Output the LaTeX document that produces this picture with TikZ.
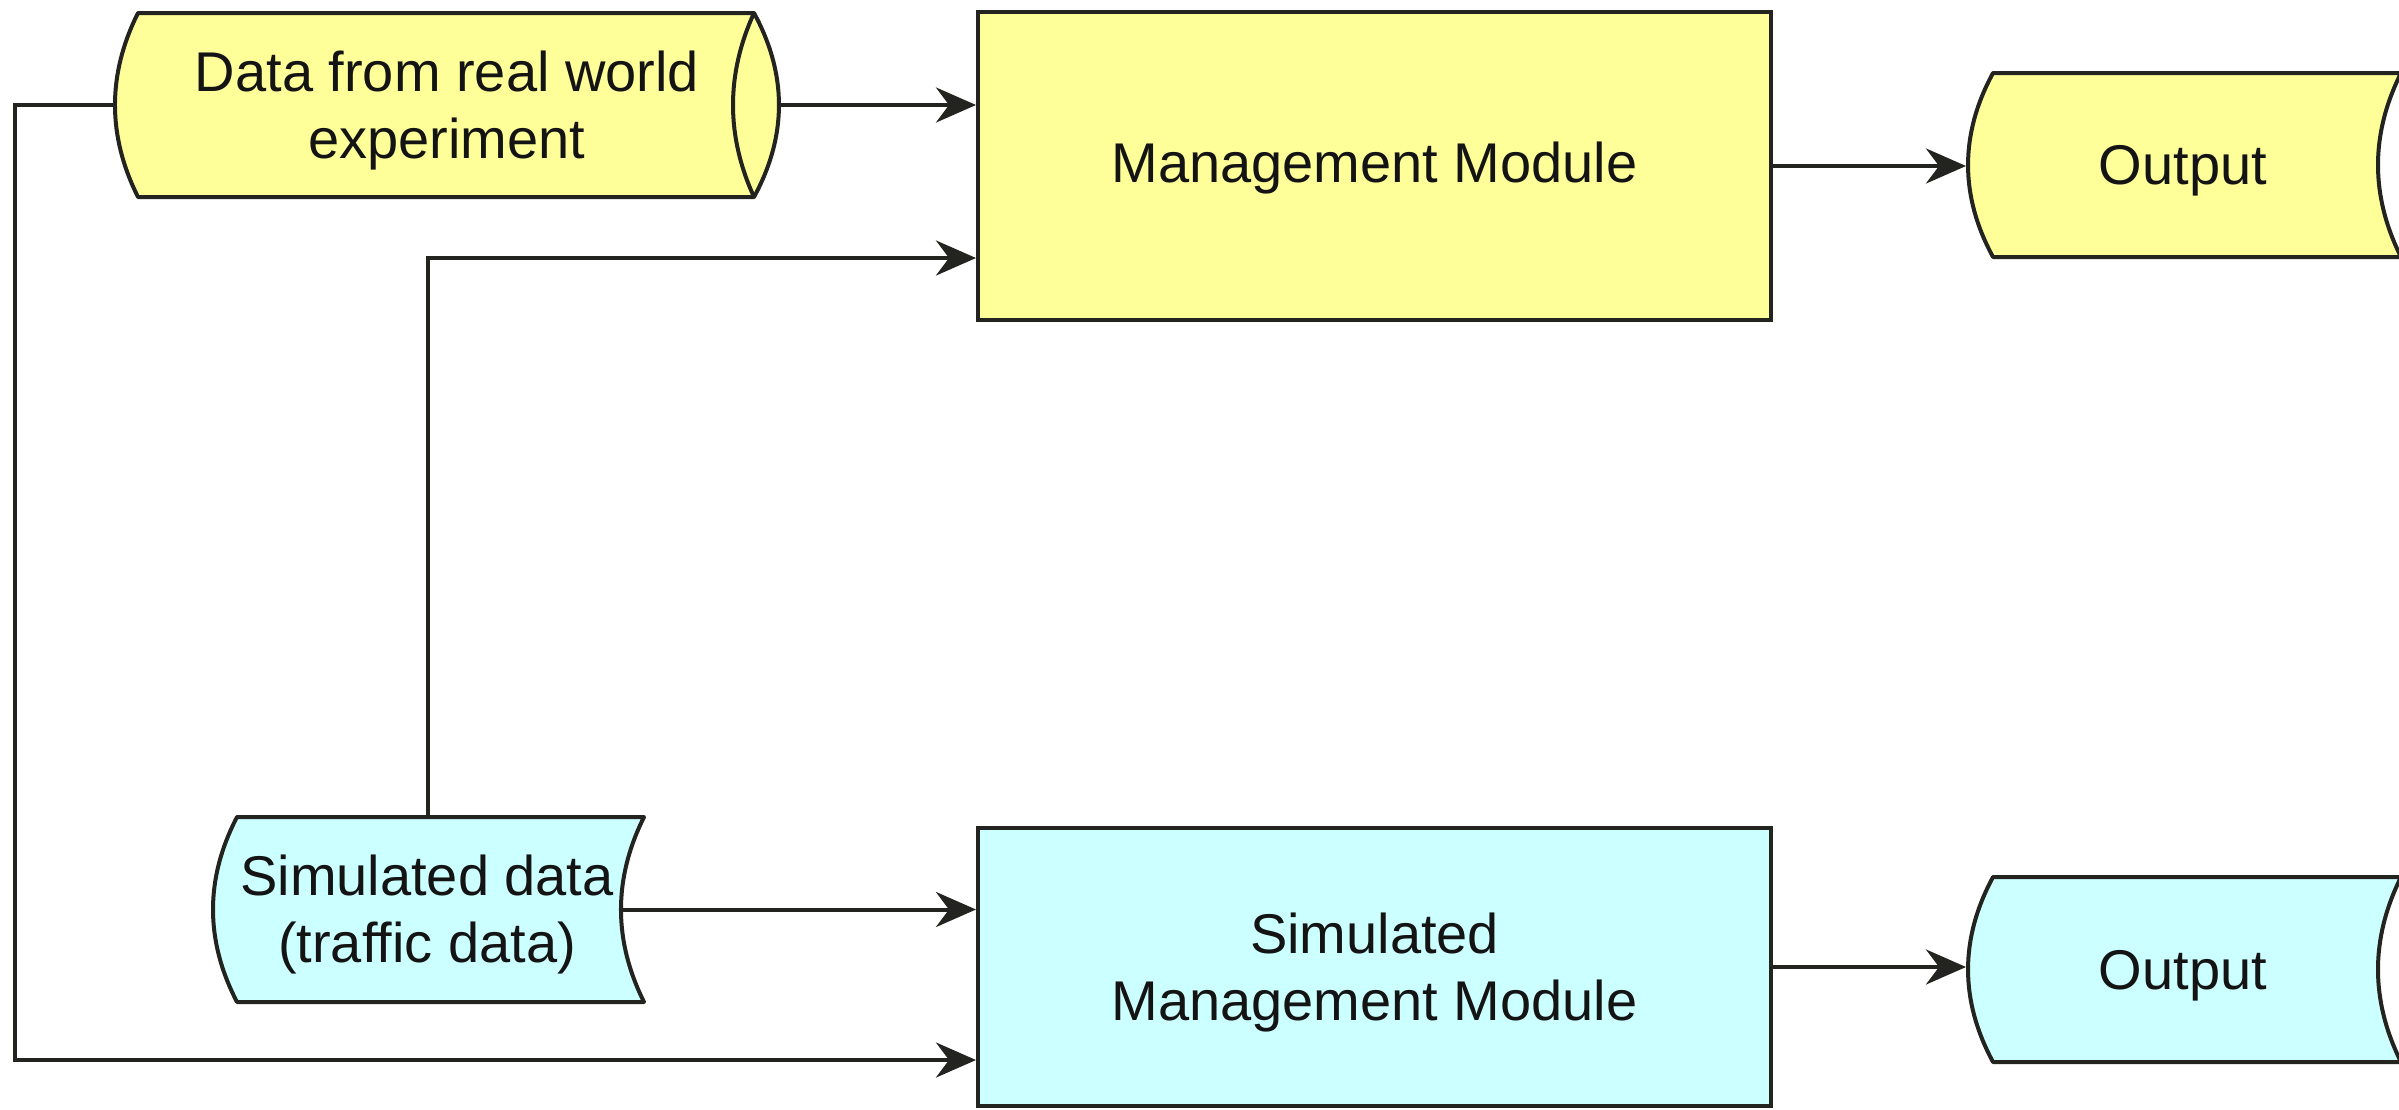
\documentclass[tikz,border=0pt]{standalone}
\usepackage{fontspec}
\setmainfont{Liberation Sans}
\usetikzlibrary{arrows.meta,calc}
\definecolor{yel}{RGB}{255,255,153}
\definecolor{cya}{RGB}{204,255,255}
\definecolor{edge}{RGB}{35,35,32}
\definecolor{txt}{RGB}{20,20,20}
\begin{document}
\begin{tikzpicture}[x=1pt,y=-1pt,line width=4pt,
  lbl/.style={font=\fontsize{56}{67}\selectfont, text=txt, align=center, inner sep=0pt},
  anchorbox/.style={rectangle, inner sep=0pt},
  boxnode/.style={anchorbox, draw=edge},
  shapeline/.style={draw=edge, line join=round},
  conn/.style={draw=edge, line width=4pt},
  arr/.style={conn, -{Stealth[length=40pt,width=35pt,inset=13pt]}}]
\fill[white] (0,0) rectangle (2399,1109);
\useasboundingbox (0,0) rectangle (2399,1109);

% --- data from real world (horizontal cylinder)
\path[shapeline, fill=yel] (138,13) -- (754,13)
   .. controls (787.3,74.3) and (787.3,135.7) .. (754,197) -- (138,197)
   .. controls (107.3,135.7) and (107.3,74.3) .. (138,13) -- cycle;
\draw[shapeline] (754,13) .. controls (726,74.3) and (726,135.7) .. (754,197);
\node[anchorbox, minimum width=664pt, minimum height=184pt] (data) at (447,105) {};
\node[lbl] (datat) at ([yshift=-6pt]data.center) {Data from real world\\experiment};

% --- simulated data (stored data shape)
\path[shapeline, fill=cya] (237,817) -- (644,817)
   .. controls (613.3,878.7) and (613.3,940.3) .. (644,1002) -- (237,1002)
   .. controls (205,940.3) and (205,878.7) .. (237,817) -- cycle;
\node[anchorbox, minimum width=408pt, minimum height=185pt] (sim) at (417,909.5) {};
\node[lbl] (simt) at ([xshift=10pt,yshift=-5pt]sim.center) {Simulated data\\(traffic data)};

% --- outputs
\path[shapeline, fill=yel] (1993,73) -- (2401,73)
   .. controls (2370.3,134.3) and (2370.3,195.7) .. (2401,257) -- (1993,257)
   .. controls (1959.7,195.7) and (1959.7,134.3) .. (1993,73) -- cycle;
\node[anchorbox, minimum width=430pt, minimum height=184pt] (out1) at (2183,165) {};
\node[lbl] (out1t) at ([yshift=-6pt]out1.center) {Output};
\path[shapeline, fill=cya] (1993,877) -- (2401,877)
   .. controls (2370.3,938.7) and (2370.3,1000.3) .. (2401,1062) -- (1993,1062)
   .. controls (1959.7,1000.3) and (1959.7,938.7) .. (1993,877) -- cycle;
\node[anchorbox, minimum width=430pt, minimum height=185pt] (out2) at (2183,969.5) {};
\node[lbl] (out2t) at ([yshift=-6pt]out2.center) {Output};

% --- modules
\node[boxnode, fill=yel, minimum width=793pt, minimum height=308pt] (mm) at (1374.5,166) {};
\node[lbl] (mmt) at ([yshift=-2pt]mm.center) {Management Module};
\node[boxnode, fill=cya, minimum width=793pt, minimum height=278pt] (smm) at (1374.5,967) {};
\node[lbl] (smmt) at ([yshift=-6pt]smm.center) {Simulated\\Management Module};

% --- connectors
\coordinate (j2) at (428,258);
\coordinate (j3) at (15,1060);
\draw[arr] (data.east) -- (data.east -| mm.west);
\draw[arr] (sim.north -| j2) -- (j2) -- (j2 -| mm.west);
\draw[arr] (data.west) -| (j3) -- (j3 -| smm.west);
\draw[arr] (sim.east) -- (sim.east -| smm.west);
\draw[arr] (mm.east) -- (mm.east -| out1.west);
\draw[arr] (smm.east) -- (smm.east -| out2.west);
\end{tikzpicture}
\end{document}
